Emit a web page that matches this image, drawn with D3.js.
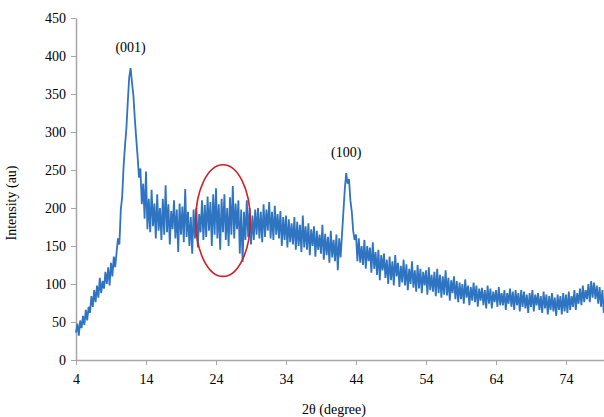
<!DOCTYPE html>
<html>
<head>
<meta charset="utf-8">
<script src="https://cdn.jsdelivr.net/npm/d3@7"></script>
<style>
	html, body { margin: 0; padding: 0; background: #fff; }
	svg { display: block; }
</style>
</head>
<body>
<div id="chart"></div>
<script>
// 2theta from 4 to 80 degree, one reading every 0.2 degree
const start = 4;
const step = 0.2;
const intensity = [
	36, 48, 32, 52, 42,
	58, 46, 66, 52, 70,
	62, 84, 70, 92, 76,
	98, 82, 108, 88, 104,
	94, 116, 100, 122, 98,
	128, 110, 136, 122, 142,
	160, 152, 198, 215, 255,
	282, 305, 340, 372, 384,
	365, 348, 318, 292, 268,
	240, 252, 205, 232, 186,
	248, 172, 212, 168, 224,
	176, 206, 160, 218, 170,
	200, 158, 212, 165, 230,
	168, 205, 152, 196, 172,
	210, 160, 198, 142, 206,
	165, 202, 155, 225, 162,
	195, 150, 188, 140, 198,
	160, 200, 148, 192, 168,
	210, 158, 204, 162, 215,
	170, 208, 150, 218, 165,
	226, 160, 205, 145, 212,
	168, 218, 158, 200, 150,
	214, 165, 229, 160, 206,
	172, 210, 140, 198, 129,
	195, 158, 210, 162, 200,
	152, 190, 158, 198, 165,
	200, 160, 195, 155, 205,
	162, 198, 170, 208, 160,
	195, 158, 203, 165, 192,
	160, 196, 150, 188, 158,
	190, 148, 185, 155, 180,
	152, 188, 145, 182, 150,
	178, 142, 190, 148, 176,
	145, 180, 138, 172, 150,
	176, 136, 170, 145, 165,
	140, 178, 132, 166, 138,
	162, 128, 170, 135, 158,
	130, 165, 118, 160, 135,
	165, 195, 225, 246, 232,
	238, 210, 195, 170, 158,
	165, 130, 160, 128, 150,
	125, 158, 120, 150, 130,
	148, 115, 155, 120, 142,
	112, 145, 105, 138, 118,
	140, 108, 132, 100, 136,
	105, 130, 98, 138, 110,
	128, 96, 124, 102, 132,
	98, 126, 92, 120, 100,
	130, 95, 118, 90, 125,
	94, 120, 88, 116, 98,
	118, 86, 122, 92, 112,
	90, 116, 84, 120, 88,
	112, 82, 110, 86, 118,
	85, 108, 78, 105, 88,
	110, 80, 104, 76, 102,
	80, 100, 74, 106, 82,
	98, 72, 96, 78, 102,
	76, 98, 70, 94, 78,
	95, 72, 92, 68, 98,
	74, 94, 68, 90, 76,
	92, 70, 96, 72, 88,
	72, 92, 66, 88, 74,
	94, 70, 90, 66, 92,
	72, 88, 64, 92, 70,
	90, 68, 86, 62, 88,
	70, 92, 64, 86, 72,
	88, 66, 84, 62, 90,
	68, 86, 60, 84, 66,
	88, 64, 82, 58, 86,
	66, 84, 60, 88, 64,
	86, 62, 90, 66, 84,
	70, 92, 66, 88, 74,
	94, 72, 98, 76, 92,
	80, 100, 76, 104, 82,
	102, 80, 98, 74, 96,
	70, 92, 62, 84, 68,
	78
];

const xTicks = [4, 14, 24, 34, 44, 54, 64, 74];
const yTicks = [0, 50, 100, 150, 200, 250, 300, 350, 400, 450];

const peaks = [
	{label: "(001)", at: 11.8},
	{label: "(100)", at: 42.6}
];

// marked zone (red ellipse), in data units
const zone = {x0: 21.1, x1: 28.9, y0: 110, y1: 257};

const width = 604, height = 417;
const margin = {top: 18, left: 76, bottom: 57};
const serif = "'Liberation Serif', 'Times New Roman', serif";

const data = intensity.map((v, i) => ({x: start + i * step, y: v}));

const x = d3.scaleLinear()
	.domain([4, 80])
	.range([margin.left, margin.left + 532]);

const y = d3.scaleLinear()
	.domain([0, 450])
	.range([height - margin.bottom, margin.top]);

const svg = d3.select("#chart").append("svg")
	.attr("width", width)
	.attr("height", height)
	.attr("font-family", serif);

const axisColor = "#a6a6a6";

const xAxis = g => g
	.attr("transform", `translate(0,${y(0)})`)
	.call(d3.axisBottom(x).tickValues(xTicks).tickSize(5).tickSizeOuter(0))
	.attr("font-family", serif)
	.call(g => g.select(".domain").attr("stroke", axisColor).attr("stroke-width", 1.5))
	.call(g => g.selectAll(".tick line").attr("stroke", axisColor))
	.call(g => g.selectAll(".tick text")
		.attr("fill", "#000")
		.attr("font-size", 14)
		.attr("dy", "1.15em"));

const yAxis = g => g
	.attr("transform", `translate(${margin.left},0)`)
	.call(d3.axisLeft(y).tickValues(yTicks).tickSize(5).tickSizeOuter(0))
	.attr("font-family", serif)
	.call(g => g.select(".domain").attr("stroke", axisColor).attr("stroke-width", 1.5))
	.call(g => g.selectAll(".tick line").attr("stroke", axisColor))
	.call(g => g.selectAll(".tick text")
		.attr("fill", "#000")
		.attr("font-size", 14)
		.attr("x", -10));

svg.append("g").call(xAxis);
svg.append("g").call(yAxis);

const line = d3.line()
	.x(d => x(d.x))
	.y(d => y(d.y));

svg.append("path")
	.datum(data)
	.attr("fill", "none")
	.attr("stroke", "#2f74c0")
	.attr("stroke-width", 1.8)
	.attr("stroke-linejoin", "miter")
	.attr("d", line);

// peak labels, placed above the highest reading near each peak
svg.append("g")
		.attr("font-size", 14)
		.attr("text-anchor", "middle")
	.selectAll("text")
	.data(peaks)
	.join("text")
		.attr("x", d => x(d.at))
		.attr("y", d => {
			const near = data.filter(p => Math.abs(p.x - d.at) < 0.5);
			return y(d3.max(near, p => p.y)) - 16;
		})
		.text(d => d.label);

svg.append("ellipse")
	.attr("cx", (x(zone.x0) + x(zone.x1)) / 2)
	.attr("cy", (y(zone.y0) + y(zone.y1)) / 2)
	.attr("rx", (x(zone.x1) - x(zone.x0)) / 2)
	.attr("ry", (y(zone.y0) - y(zone.y1)) / 2)
	.attr("fill", "none")
	.attr("stroke", "#d21f26")
	.attr("stroke-width", 1.6);

svg.append("text")
	.attr("transform", `translate(16,${(y(0) + y(450)) / 2 + 14}) rotate(-90)`)
	.attr("text-anchor", "middle")
	.attr("font-size", 14)
	.text("Intensity (au)");

svg.append("text")
	.attr("x", 334)
	.attr("y", 414)
	.attr("text-anchor", "middle")
	.attr("font-size", 14)
	.text("2θ (degree)");
</script>
</body>
</html>
